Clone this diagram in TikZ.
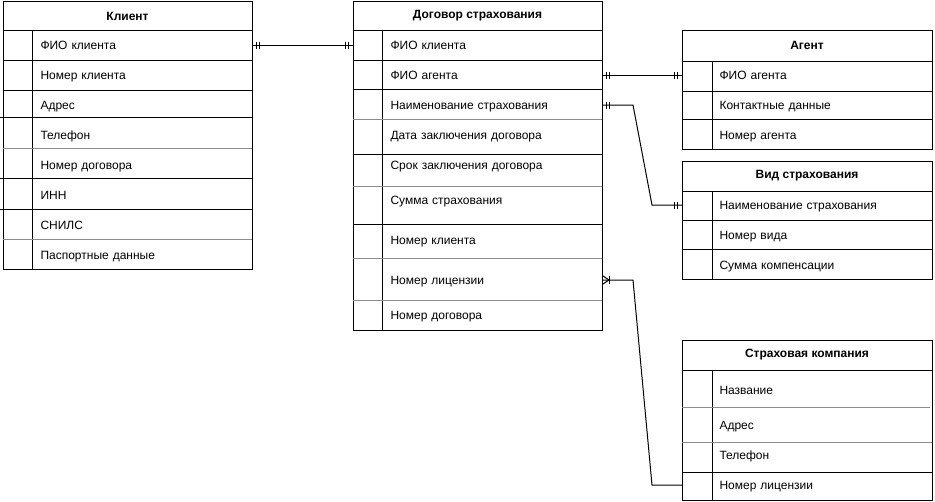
\documentclass[tikz,border=0pt]{standalone}
\usepackage{fontspec}
\setmainfont{Liberation Sans}
\begin{document}
\begin{tikzpicture}[x=1pt,y=-1pt, line width=1pt,
  fld/.style={inner xsep=37pt, inner ysep=0pt, text width=175pt, align=left,
    font=\fontsize{12}{14}\selectfont, text height=11pt, text depth=2pt, anchor=west},
  ttl/.style={font=\fontsize{12}{14}\selectfont\bfseries, inner sep=0pt},
  gsep/.style={draw=black!45},
  tick/.style={line width=1pt},
]
\useasboundingbox (0,0) rectangle (935,501);

% ---------- Клиент ----------
\draw (3,1) rectangle (252,269);
\draw (3,30) -- (252,30);
\draw (32,30) -- (32,269);
\draw (3,60) -- (252,60);
\draw (3,90) -- (252,90);
\draw (0,117) -- (252,117);
\draw[gsep] (3,148) -- (252,148);
\draw (0,178) -- (252,178);
\draw (0,209) -- (252,209);
\draw[gsep] (3,239) -- (252,239);
\node[ttl] (kt) at (127.5,16) {Клиент};
\node[fld] (k1) at (3,45) {ФИО клиента};
\node[fld] (k2) at (3,75) {Номер клиента};
\node[fld] (k3) at (3,105) {Адрес};
\node[fld] (k4) at (3,135) {Телефон};
\node[fld] (k5) at (3,165) {Номер договора};
\node[fld] (k6) at (3,195) {ИНН};
\node[fld] (k7) at (3,225) {СНИЛС};
\node[fld] (k8) at (3,255) {Паспортные данные};

% ---------- Договор страхования ----------
\draw (353,1) rectangle (602,330);
\draw (353,30) -- (602,30);
\draw (382,30) -- (382,330);
\draw (353,60.5) -- (602,60.5);
\draw (353,89) -- (602,89);
\draw[gsep] (353,119) -- (602,119);
\draw (353,154) -- (602,154);
\draw[gsep] (353,186) -- (602,186);
\draw (353,224) -- (602,224);
\draw[gsep] (353,258) -- (602,258);
\draw[gsep] (353,300) -- (602,300);
\node[ttl] (dt) at (477.5,16) {Договор страхования};
\node[fld] (d1) at (353,45) {ФИО клиента};
\node[fld] (d2) at (353,75) {ФИО агента};
\node[fld] (d3) at (353,105) {Наименование страхования};
\node[fld] (d4) at (353,135) {Дата заключения договора};
\node[fld] (d5) at (353,165) {Срок заключения договора};
\node[fld] (d6) at (353,200) {Сумма страхования};
\node[fld] (d7) at (353,240) {Номер клиента};
\node[fld] (d8) at (353,280) {Номер лицензии};
\node[fld] (d9) at (353,315) {Номер договора};

% ---------- Агент ----------
\draw (682,30) rectangle (932,149);
\draw (682,61) -- (932,61);
\draw (712,61) -- (712,149);
\draw (682,91) -- (932,91);
\draw (682,119) -- (932,119);
\node[ttl] (at) at (807,45.5) {Агент};
\node[fld] (a1) at (682,75) {ФИО агента};
\node[fld] (a2) at (682,105) {Контактные данные};
\node[fld] (a3) at (682,135) {Номер агента};

% ---------- Вид страхования ----------
\draw (682,161) rectangle (932,279);
\draw (682,191) -- (932,191);
\draw (712,191) -- (712,279);
\draw (682,220) -- (932,220);
\draw (682,249) -- (932,249);
\node[ttl] (vt) at (807,176) {Вид страхования};
\node[fld] (v1) at (682,205) {Наименование страхования};
\node[fld] (v2) at (682,235) {Номер вида};
\node[fld] (v3) at (682,265) {Сумма компенсации};

% ---------- Страховая компания ----------
\draw (682,340) rectangle (932,500);
\draw (682,370) -- (932,370);
\draw (712,370) -- (712,500);
\draw[gsep] (682,407) -- (930,407);
\draw[gsep] (682,442) -- (932,442);
\draw (682,472) -- (932,472);
\node[ttl] (ct) at (807,355) {Страховая компания};
\node[fld] (c1) at (682,390) {Название};
\node[fld] (c2) at (682,425) {Адрес};
\node[fld] (c3) at (682,455) {Телефон};
\node[fld] (c4) at (682,485) {Номер лицензии};

% ---------- Связи ----------
\draw (k1.east) -- (d1.west);
\draw[tick] ([xshift=3pt,yshift=-3.5pt]k1.east) -- ([xshift=3pt,yshift=3.5pt]k1.east);
\draw[tick] ([xshift=6pt,yshift=-3.5pt]k1.east) -- ([xshift=6pt,yshift=3.5pt]k1.east);
\draw[tick] ([xshift=-5pt,yshift=-3.5pt]d1.west) -- ([xshift=-5pt,yshift=3.5pt]d1.west);
\draw[tick] ([xshift=-8pt,yshift=-3.5pt]d1.west) -- ([xshift=-8pt,yshift=3.5pt]d1.west);

\draw (d2.east) -- (a1.west);
\draw[tick] ([xshift=3pt,yshift=-3.5pt]d2.east) -- ([xshift=3pt,yshift=3.5pt]d2.east);
\draw[tick] ([xshift=6pt,yshift=-3.5pt]d2.east) -- ([xshift=6pt,yshift=3.5pt]d2.east);
\draw[tick] ([xshift=-5pt,yshift=-3.5pt]a1.west) -- ([xshift=-5pt,yshift=3.5pt]a1.west);
\draw[tick] ([xshift=-8pt,yshift=-3.5pt]a1.west) -- ([xshift=-8pt,yshift=3.5pt]a1.west);

\draw (d3.east) -- ++(30,0) -- ([xshift=-30pt]v1.west) -- (v1.west);
\draw[tick] ([xshift=3pt,yshift=-3.5pt]d3.east) -- ([xshift=3pt,yshift=3.5pt]d3.east);
\draw[tick] ([xshift=6pt,yshift=-3.5pt]d3.east) -- ([xshift=6pt,yshift=3.5pt]d3.east);
\draw[tick] ([xshift=-5pt,yshift=-3.5pt]v1.west) -- ([xshift=-5pt,yshift=3.5pt]v1.west);
\draw[tick] ([xshift=-8pt,yshift=-3.5pt]v1.west) -- ([xshift=-8pt,yshift=3.5pt]v1.west);

\draw (d8.east) -- ++(30,0) -- ([xshift=-30pt]c4.west) -- (c4.west);
\draw ([yshift=-4pt]d8.east) -- ([xshift=6pt]d8.east) -- ([yshift=4pt]d8.east);
\draw[tick] ([xshift=6pt,yshift=-4pt]d8.east) -- ([xshift=6pt,yshift=4pt]d8.east);
\end{tikzpicture}
\end{document}
